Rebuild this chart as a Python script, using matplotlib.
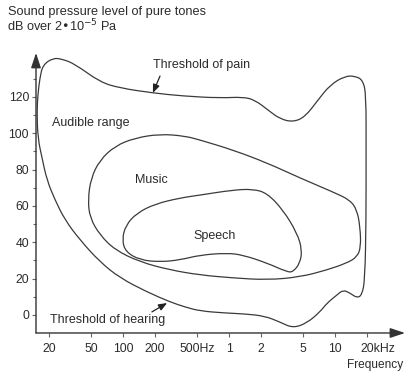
import numpy as np
import matplotlib.pyplot as plt
import matplotlib.transforms as mtransforms
from matplotlib.path import Path
from matplotlib.patches import PathPatch
from matplotlib.ticker import FixedLocator, NullLocator

plt.rcParams['font.family'] = ['Liberation Sans', 'DejaVu Sans']

LINE = '#3a3a3a'
TEXT = '#2b2b2b'

# Bereich des Hörens: Schmerzgrenze oben, Hörschwelle unten (geschlossen)
audible_f = [17.2, 15.7, 15.4, 15.7, 16.4, 17.5, 21.8, 26.5, 35.2, 60.5, 93.5, 191,
             367, 820, 1352, 1754, 2328, 3020, 4008, 5200, 6900, 8960, 12400,
             15400, 18300, 19600, 19600, 19600, 19100, 17900, 16100, 13800, 11900,
             10400, 8400, 7200, 5430, 4008, 3020, 2180, 1413, 915, 532, 384, 277,
             168, 93.5, 60.5, 39.2, 28.3, 22.8, 19.1]
audible_db = [86.4, 97.4, 111.7, 121.1, 130.4, 137.6, 141.4, 140.9, 138.1, 128.2,
              124.9, 122.2, 120.5, 119.4, 120.0, 118.3, 112.8, 107.9, 106.2, 109.0,
              118.3, 126.6, 131.5, 131.5, 129.3, 121.1, 90.8, 52.3, 19.3, 11.0, 9.4,
              12.1, 13.8, 11.0, 6.6, 1.7, -4.4, -7.2, -3.9, -0.6, 0.6, 1.1, 2.2, 4.4,
              7.2, 12.7, 20.4, 29.2, 41.3, 52.3, 63.3, 74.3]

# Musik
music_f = [46.6, 49.8, 60.5, 83.9, 129, 223, 384, 532, 1089, 2280, 4670, 9550,
           13800, 16100, 17200, 17500, 16100, 12900, 8400, 4670, 2280, 1089, 532,
           277, 144, 83.9, 60.5, 48.7]
music_db = [63.3, 75.4, 85.3, 93.0, 97.4, 99.6, 98.5, 96.3, 90.8, 83.7, 75.4, 67.7,
            63.3, 57.8, 48.4, 37.4, 31.9, 28.6, 24.8, 20.9, 19.3, 20.4, 22.0, 24.8,
            29.2, 35.8, 44.0, 53.4]

# Sprache
speech_f = [97.7, 106, 135, 200, 344, 532, 1089, 1680, 2280, 3230, 4380, 4880, 4670,
            4008, 3520, 2280, 1352, 955, 532, 344, 223, 144, 106]
speech_db = [41.3, 49.5, 56.1, 61.1, 64.4, 66.0, 68.8, 69.3, 67.1, 57.8, 45.1, 35.8,
             28.6, 23.7, 23.7, 28.6, 33.0, 34.1, 33.0, 30.3, 29.2, 30.3, 34.7]

x_ticks = [20, 50, 100, 200, 500, 1000, 2000, 5000, 10000, 20000]
x_labels = ['20', '50', '100', '200', '500Hz', '1', '2', '5', '10', '20kHz']
y_ticks = [0, 20, 40, 60, 80, 100, 120]
y_minor = [10, 30, 50, 70, 90, 110, 130]


def closed_curve(f, db):
    # geschlossene Kurve aus quadratischen Bezier-Segmenten, Stützpunkte als Kontrollpunkte
    lx = np.log10(f)
    y = np.asarray(db, dtype=float)
    n = len(lx)
    mx = (lx + np.roll(lx, -1)) / 2
    my = (y + np.roll(y, -1)) / 2
    verts = [(mx[-1], my[-1])]
    codes = [Path.MOVETO]
    for i in range(n):
        verts += [(lx[i], y[i]), (mx[i], my[i])]
        codes += [Path.CURVE3, Path.CURVE3]
    verts = np.array(verts)
    verts[:, 0] = 10 ** verts[:, 0]
    return Path(verts, codes)


fig = plt.figure(figsize=(4.09, 3.76), dpi=100)
ax = fig.add_axes([0.088, 0.1144, 0.9022, 0.7447])
ax.set_xscale('log')
ax.set_xlim(15.08, 45640)
ax.set_ylim(-9.9, 144.2)

for f, db in [(audible_f, audible_db), (music_f, music_db), (speech_f, speech_db)]:
    ax.add_patch(PathPatch(closed_curve(f, db), facecolor='none', edgecolor=LINE,
                           lw=0.9))

# Achsen als Pfeile
for s in ax.spines.values():
    s.set_visible(False)
axis_arrow = dict(arrowstyle='-|>,head_length=0.9,head_width=0.3',
                  color='#333333', lw=1.0, shrinkA=0, shrinkB=0)
ax.annotate('', xy=(1, 0), xytext=(0, 0), xycoords='axes fraction',
            arrowprops=axis_arrow)
ax.annotate('', xy=(0, 1), xytext=(0, 0), xycoords='axes fraction',
            arrowprops=axis_arrow)

ax.xaxis.set_major_locator(FixedLocator(x_ticks))
ax.xaxis.set_minor_locator(NullLocator())
ax.set_xticklabels(x_labels)
ax.set_yticks(y_ticks)
ax.yaxis.set_minor_locator(FixedLocator(y_minor))
ax.tick_params(axis='both', which='major', direction='out', length=3, width=0.8,
               color='#666666', labelsize=8.8, labelcolor=TEXT, pad=2)
ax.tick_params(axis='x', which='major', pad=4)
ax.tick_params(axis='y', which='minor', direction='out', length=2, width=0.8,
               color='#666666')

# "20kHz" beginnt knapp links vom Strich
last = ax.get_xticklabels()[-1]
last.set_ha('left')
last.set_transform(last.get_transform() +
                   mtransforms.ScaledTranslation(-7 / 100, 0, fig.dpi_scale_trans))

fig.text(8 / 409, 1 - 12 / 376, 'Sound pressure level of pure tones', fontsize=9.2,
         color=TEXT, va='center', ha='left')
fig.text(7 / 409, 1 - 26 / 376, 'dB over 2•10$^{-5}$ Pa', fontsize=9.2,
         color=TEXT, va='center', ha='left')
fig.text(403 / 409, 1 - 365 / 376, 'Frequency', fontsize=8.6, color=TEXT,
         va='center', ha='right')

text_arrow = dict(arrowstyle='-|>,head_length=0.5,head_width=0.2',
                  color='#222222', lw=0.9, shrinkA=0, shrinkB=0)
ax.text(191, 137.6, 'Threshold of pain', fontsize=9, color=TEXT, va='center')
ax.annotate('', xy=(191, 122.2), xytext=(223, 131.5), arrowprops=text_arrow)
ax.text(20.4, -2.75, 'Threshold of hearing', fontsize=9, color=TEXT, va='center')
ax.annotate('', xy=(260, 6.6), xytext=(187, 1.7), arrowprops=text_arrow)
ax.text(21.3, 105.7, 'Audible range', fontsize=9, color=TEXT, va='center')
ax.text(129, 74.3, 'Music', fontsize=9, color=TEXT, va='center')
ax.text(458, 43.5, 'Speech', fontsize=9, color=TEXT, va='center')

fig.savefig('out.png', dpi=100)
